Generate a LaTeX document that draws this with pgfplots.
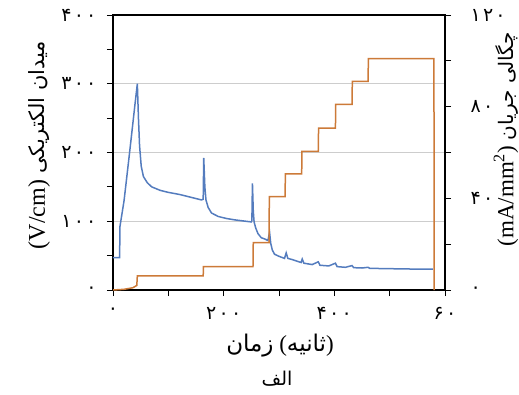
\documentclass[border=0pt]{standalone}
\usepackage{fontspec}
\setmainfont{Liberation Serif}
\newfontfamily\fa[Script=Arabic]{DejaVu Sans}
\newfontfamily\fad[LetterSpace=12]{DejaVu Sans}
\TeXXeTstate=1
\usepackage{pgfplots}
\pgfplotsset{compat=1.18}
\definecolor{eblue}{RGB}{84,124,190}
\definecolor{jorange}{RGB}{204,122,56}
\definecolor{gridgray}{RGB}{205,205,205}

\begin{document}
\begin{tikzpicture}[x=1pt,y=1pt]
\pgfplotsset{
 common/.style={
  scale only axis, width=332pt, height=275pt, at={(0,0)}, anchor=south west,
  xmin=0, xmax=600,
  tick align=outside, major tick length=6pt, minor tick length=6pt,
  every tick/.style={black, line width=0.9pt},
  axis line style={black, line width=1.2pt},
  tick label style={font=\fad\fontsize{19}{22}\selectfont},
 }
}
\begin{axis}[common,
  ymin=0, ymax=400,
  xtick={0,200,400,600}, xticklabels={۰,۲۰۰,۴۰۰,۶۰},
  minor xtick={100,300,500},
  ytick={0,100,200,300,400}, yticklabels={۰,۱۰۰,۲۰۰,۳۰۰,۴۰۰},
  minor ytick={50,150,250,350},
  xtick pos=bottom, ytick pos=left,
  xticklabel style={yshift=-8pt},
  yticklabel style={xshift=-7pt},
  ymajorgrids, major grid style={gridgray, line width=0.8pt},
]
\addplot[eblue, line width=1.5pt] coordinates {
(0,47) (12,47) (12.5,92) (20,130) (30,200) (40,272) (44,300) (46,250) (48,210) (51,180) (55,165) (62,156) (70,150) (85,145) (100,142) (120,139) (140,135) (160,131) (163,132) (164,192) (166,150) (168,131) (172,120) (178,112) (190,107) (205,104) (220,102) (240,100) (250,99) (251,101) (252,155) (253.5,115) (255,99) (258,90) (262,82) (268,76) (275,74) (280,72) (283,84) (285,68) (288,58) (292,52) (300,49) (310,46) (313,54) (316,46) (325,44) (340,40) (342,45) (345,39) (360,37) (371,41) (374,36) (390,35) (402,39) (405,34) (420,33) (432,35.5) (435,32.5) (450,32) (461,33) (464,31.5) (500,31) (540,30.5) (578,30.5)
};
\end{axis}
\begin{axis}[common, ymin=0, ymax=120, axis y line*=right, axis x line=none,
  ytick={0,40,80,120}, yticklabels={۰,۴۰,۸۰,۱۲۰}, minor ytick={20,60,100},
  yticklabel style={xshift=16pt}]
\addplot[jorange, line width=1.5pt] coordinates {
(0,0) (20,0.3) (36,1) (43,2) (44,6.2) (163,6.2) (163.5,10.2) (253,10.2) (253.5,20.7) (282,20.7) (282.5,40.7) (311,40.7) (311.5,50.7) (341,50.7) (341.5,60.5) (371,60.5) (371.5,70.6) (402,70.6) (402.5,81) (432,81) (432.5,91) (461,91) (461.5,101) (580,101) (580.5,0)
};
\end{axis}
\node[rotate=90, font=\fontsize{24}{28}\selectfont] at (-74,145) {(V/cm)\ {\fa\fontsize{21}{24}\selectfont\beginR میدان الکتریکی\endR}};
\node[rotate=90, font=\fontsize{23}{27}\selectfont] at (393,151) {(mA/mm\textsuperscript{2})\ {\fa\fontsize{20}{24}\selectfont\beginR چگالی جریان\endR}};
\node[font=\fontsize{23}{26}\selectfont] at (167,-56) {{\fa\beginR زمان\endR}\ ({\fa\beginR ثانیه\endR})};
\node[font=\fa\fontsize{19}{22}\selectfont] at (164,-89) {\beginR الف\endR};
\pgfresetboundingbox
\path[use as bounding box] (-113,-104) rectangle (406,290);
\end{tikzpicture}
\end{document}
